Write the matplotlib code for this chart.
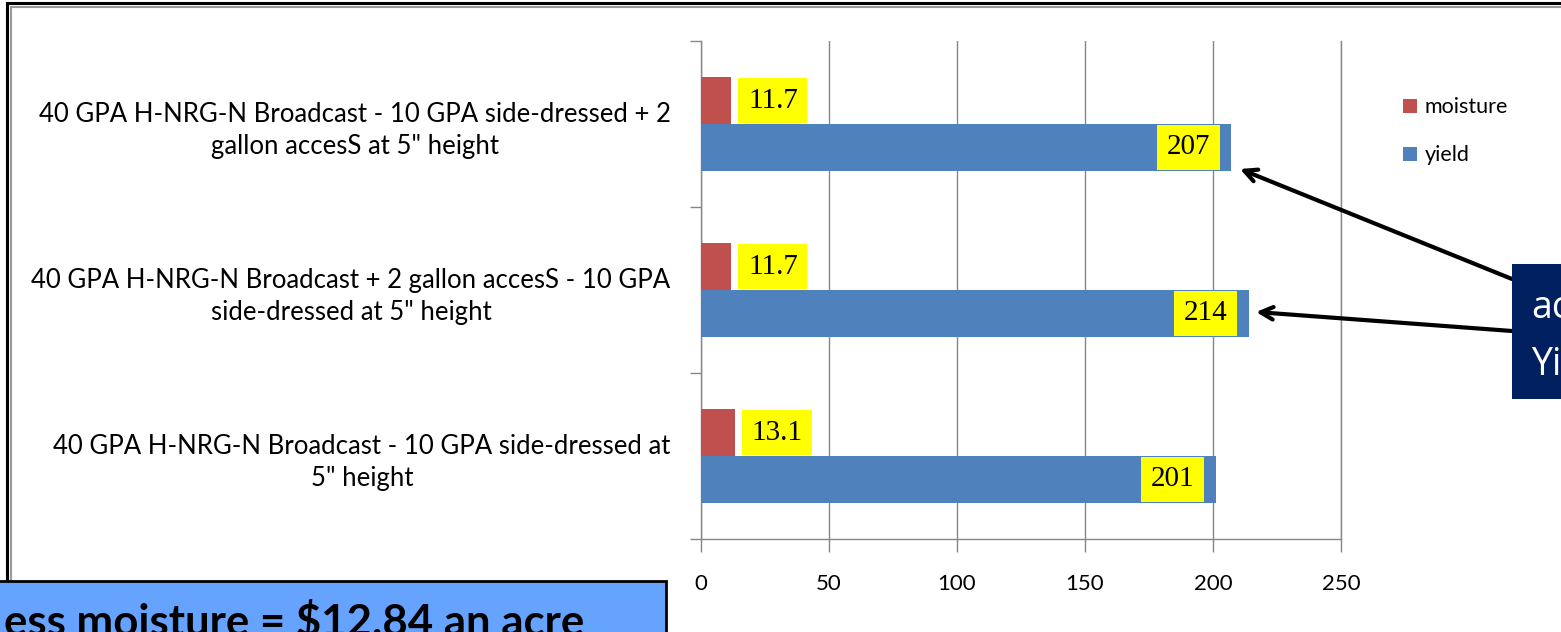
import numpy as np
import matplotlib.pyplot as plt
from matplotlib.patches import Rectangle

# categories listed top to bottom as in the chart
categories = [
    '40 GPA H-NRG-N Broadcast - 10 GPA side-dressed + 2\ngallon accesS at 5" height',
    '40 GPA H-NRG-N Broadcast + 2 gallon accesS - 10 GPA\nside-dressed at 5" height',
    '40 GPA H-NRG-N Broadcast - 10 GPA side-dressed at\n5" height',
]
moisture = [11.7, 11.7, 13.1]
yield_ = [207, 214, 201]
moisture_labels = ["11.7", "11.7", "13.1"]
yield_labels = ["207", "214", "201"]
xticks = [0, 50, 100, 150, 200, 250]

W, H = 1561, 632
fig = plt.figure(figsize=(W / 100, H / 100), dpi=100)
ax = fig.add_axes([701 / W, 1 - 539 / H, 640 / W, 498 / H])

y = np.arange(len(categories))
h = 0.283
grey = "#868686"

ax.barh(y - h / 2, moisture, height=h, color="#C0504D", label="moisture", zorder=3)
ax.barh(y + h / 2, yield_, height=h, color="#4F81BD", label="yield", zorder=3)

ax.set_ylim(len(categories) - 0.5, -0.5)
ax.set_xlim(0, 250)
ax.set_xticks(xticks)
ax.set_xticklabels([str(t) for t in xticks], family="Lato", fontsize=16, color="black")
ax.set_yticks(y)
ax.set_yticklabels(categories, family="Lato", fontsize=18.5, color="black",
                   ha="right", multialignment="center", linespacing=1.35)
ax.set_yticks(np.arange(len(categories) + 1) - 0.5, minor=True)
ax.tick_params(axis="y", which="major", length=0, pad=22)
ax.tick_params(axis="y", which="minor", length=8, color=grey, width=1)
ax.tick_params(axis="x", length=9, color=grey, width=1, pad=16)
ax.xaxis.grid(True, color=grey, linewidth=1, zorder=0)
ax.spines["top"].set_visible(False)
for s in ["left", "bottom", "right"]:
    ax.spines[s].set_color(grey)
    ax.spines[s].set_linewidth(1)

box = dict(boxstyle="square,pad=0.33", facecolor="#FFFF00", edgecolor="none")
for yi, v, lab in zip(y, moisture, moisture_labels):
    ax.annotate(lab, (v, yi - h / 2), xytext=(17, 0), textcoords="offset pixels",
                ha="left", va="center", family="Liberation Serif", fontsize=21,
                bbox=box, zorder=5)
for yi, v, lab in zip(y, yield_, yield_labels):
    ax.annotate(lab, (v, yi + h / 2), xytext=(-21, 0), textcoords="offset pixels",
                ha="right", va="center", family="Liberation Serif", fontsize=21,
                bbox=box, zorder=5)

leg = ax.legend(loc="upper left", bbox_to_anchor=(1384 / W, 1 - 78 / H),
                bbox_transform=fig.transFigure, frameon=False,
                prop={"family": "Lato", "size": 15.5}, handlelength=0.65,
                handleheight=0.65, handletextpad=0.35, labelspacing=1.3)

# outer frame lines
fig.add_artist(plt.Line2D([7 / W, 7 / W], [0, 1 - 3 / H], color="black", lw=2.2))
fig.add_artist(plt.Line2D([7 / W, 1], [1 - 3 / H, 1 - 3 / H], color="black", lw=2.2))
fig.add_artist(plt.Line2D([10.5 / W, 10.5 / W], [0, 1 - 7 / H], color="#9a9a9a", lw=1.5))
fig.add_artist(plt.Line2D([10.5 / W, 1], [1 - 7 / H, 1 - 7 / H], color="#9a9a9a", lw=1.5))

# navy call-out box with arrows
fig.add_artist(Rectangle((1512 / W, 1 - 399 / H), 60 / W, 135 / H,
                         transform=fig.transFigure, facecolor="#00205F",
                         edgecolor="none", zorder=4))
fig.text(1531 / W, 1 - 318 / H, "ac", color="white", family="Open Sans",
         fontsize=27, va="baseline", ha="left", zorder=5)
fig.text(1531 / W, 1 - 375 / H, "Yi", color="white", family="Open Sans",
         fontsize=27, va="baseline", ha="left", zorder=5)
for start, end in [((1512, 279), (1240, 169)), ((1512, 331), (1256, 312))]:
    fig.add_artist(plt.Annotation(
        "", xy=(end[0] / W, 1 - end[1] / H), xycoords=fig.transFigure,
        xytext=(start[0] / W, 1 - start[1] / H), textcoords=fig.transFigure,
        arrowprops=dict(arrowstyle="->,head_length=0.9,head_width=0.45",
                        color="black", lw=3, shrinkA=0, shrinkB=0)))

# light blue note box at the bottom left
fig.add_artist(Rectangle((-5 / W, -10 / H), 671 / W, 61 / H,
                         transform=fig.transFigure, facecolor="#66A3FF",
                         edgecolor="black", lw=2, zorder=4))
fig.text(4 / W, 1 - 636 / H, "ess moisture = $12.84 an acre", color="black",
         family="Lato", weight="bold", fontsize=31.5, va="baseline", ha="left", zorder=5)

fig.savefig("out.png", dpi=100)
